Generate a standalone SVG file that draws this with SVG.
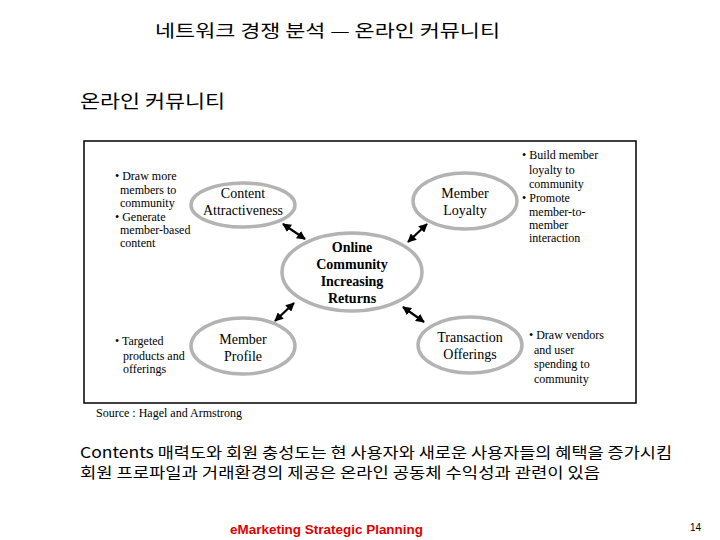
<svg xmlns="http://www.w3.org/2000/svg" width="720" height="540" viewBox="0 0 720 540">
<defs>
<marker id="ah" viewBox="0 0 10 10" refX="9" refY="5" markerWidth="4" markerHeight="4" orient="auto-start-reverse" markerUnits="strokeWidth">
<path d="M0,0 L10,5 L0,10 z" fill="#000"/>
</marker>
<style>
.kr{font-family:"Noto Sans CJK KR","Liberation Sans",sans-serif;fill:#000}
.sr{font-family:"Liberation Serif",serif;font-size:12px;fill:#000}
.nl{font-family:"Liberation Serif",serif;font-size:14px;fill:#000;text-anchor:middle}
.nb{font-family:"Liberation Serif",serif;font-size:14px;font-weight:bold;fill:#000;text-anchor:middle}
.el{fill:none;stroke:#b3b3b3;stroke-width:3.5}
.ar{stroke:#000;stroke-width:2.2;marker-start:url(#ah);marker-end:url(#ah)}
</style>
</defs>
<rect width="720" height="540" fill="#fff"/>
<text class="kr" x="155" y="37" font-size="17" textLength="345" lengthAdjust="spacingAndGlyphs">네트워크 경쟁 분석 — 온라인 커뮤니티</text>
<text class="kr" x="80" y="108" font-size="18" textLength="145" lengthAdjust="spacingAndGlyphs">온라인 커뮤니티</text>
<rect x="84" y="141" width="552" height="262" fill="none" stroke="#000" stroke-width="1.5"/>
<g id="center">
<ellipse class="el" cx="352" cy="272" rx="70" ry="39"/>
<text class="nb" x="352" y="252">Online</text>
<text class="nb" x="352" y="269">Community</text>
<text class="nb" x="352" y="286">Increasing</text>
<text class="nb" x="352" y="303">Returns</text>
</g>
<g id="content">
<ellipse class="el" cx="243" cy="205" rx="52" ry="22"/>
<text class="nl" x="243" y="198">Content</text>
<text class="nl" x="243" y="215">Attractiveness</text>
</g>
<g id="loyalty">
<ellipse class="el" cx="465" cy="201" rx="52" ry="28"/>
<text class="nl" x="465" y="198">Member</text>
<text class="nl" x="465" y="215">Loyalty</text>
</g>
<g id="profile">
<ellipse class="el" cx="243" cy="346" rx="52" ry="28"/>
<text class="nl" x="243" y="344">Member</text>
<text class="nl" x="243" y="361">Profile</text>
</g>
<g id="transaction">
<ellipse class="el" cx="470" cy="345" rx="52" ry="28"/>
<text class="nl" x="470" y="342">Transaction</text>
<text class="nl" x="470" y="359">Offerings</text>
</g>
<g id="connectors">
<line class="ar" x1="283" y1="224" x2="305" y2="239"/>
<line class="ar" x1="427" y1="224" x2="408" y2="242"/>
<line class="ar" x1="294" y1="303" x2="275" y2="321"/>
<line class="ar" x1="403" y1="307" x2="424" y2="322"/>
</g>
<g id="notes-tl">
<text class="sr" x="115" y="180">• Draw more</text>
<text class="sr" x="120" y="194">members to</text>
<text class="sr" x="120" y="207">community</text>
<text class="sr" x="115" y="221">• Generate</text>
<text class="sr" x="120" y="234">member-based</text>
<text class="sr" x="120" y="247">content</text>
</g>
<g id="notes-tr">
<text class="sr" x="522" y="159">• Build member</text>
<text class="sr" x="529" y="174">loyalty to</text>
<text class="sr" x="529" y="188">community</text>
<text class="sr" x="522" y="202">• Promote</text>
<text class="sr" x="529" y="216">member-to-</text>
<text class="sr" x="529" y="229">member</text>
<text class="sr" x="529" y="242">interaction</text>
</g>
<g id="notes-bl">
<text class="sr" x="115" y="345">• Targeted</text>
<text class="sr" x="123" y="360">products and</text>
<text class="sr" x="123" y="373">offerings</text>
</g>
<g id="notes-br">
<text class="sr" x="529" y="339">• Draw vendors</text>
<text class="sr" x="534" y="354">and user</text>
<text class="sr" x="534" y="368">spending to</text>
<text class="sr" x="534" y="383">community</text>
</g>
<text class="sr" x="96" y="417">Source : Hagel and Armstrong</text>
<text class="kr" x="80" y="458" font-size="15" fill="#222" textLength="592" lengthAdjust="spacingAndGlyphs">Contents 매력도와 회원 충성도는 현 사용자와 새로운 사용자들의 혜택을 증가시킴</text>
<text class="kr" x="80" y="478" font-size="15" fill="#222" textLength="520" lengthAdjust="spacingAndGlyphs">회원 프로파일과 거래환경의 제공은 온라인 공동체 수익성과 관련이 있음</text>
<text x="230" y="534" font-family="Liberation Sans, sans-serif" font-size="13" font-weight="bold" fill="#e00000" textLength="193" lengthAdjust="spacingAndGlyphs">eMarketing Strategic Planning</text>
<text x="690" y="531" font-family="Liberation Sans, sans-serif" font-size="10" fill="#000">14</text>
</svg>
